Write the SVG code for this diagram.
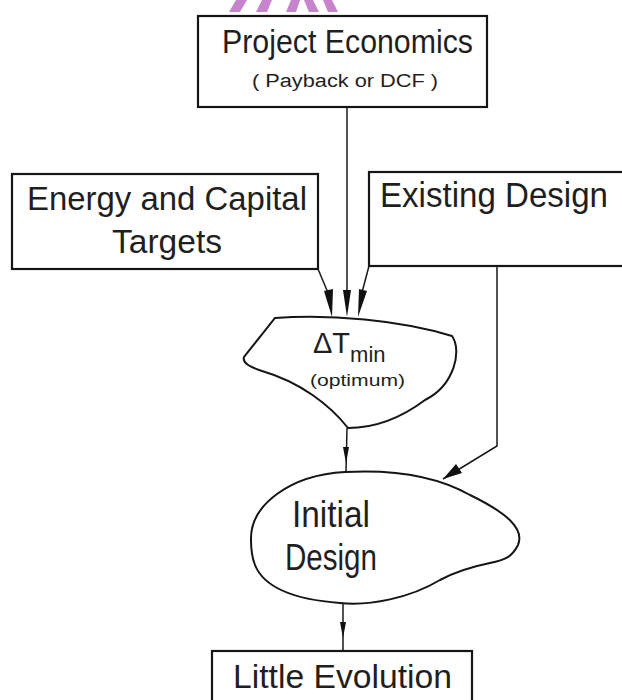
<svg xmlns="http://www.w3.org/2000/svg" width="622" height="700" viewBox="0 0 622 700">
<style>
.box{fill:none;stroke:#151515;stroke-width:2.2}
.shape{fill:none;stroke:#151515;stroke-width:2}
.ln{fill:none;stroke:#1a1a1a;stroke-width:1.5}
.ah{fill:#111;stroke:none}
.t{font-family:"Liberation Sans","DejaVu Sans",Arial,sans-serif;fill:#1f1f1f}
.wm{fill:#c684cc;stroke:none}
</style>
<rect x="0" y="0" width="622" height="700" fill="#ffffff"/>
<g id="watermark">
<polygon class="wm" points="236,0 247,0 240,12 229,12"/>
<polygon class="wm" points="262,0 272,0 267,12 256,12"/>
<polygon class="wm" points="291,0 300,0 296,12 286,12"/>
<polygon class="wm" points="304,0 313,0 319,12 309,12"/>
<polygon class="wm" points="323,0 332,0 338,12 328,12"/>
</g>
<g id="project-economics">
<rect class="box" x="198" y="16" width="289" height="91"/>
<text class="t" x="222" y="53" font-size="33" textLength="251" lengthAdjust="spacingAndGlyphs">Project Economics</text>
<text class="t" x="252" y="87" font-size="18" textLength="186" lengthAdjust="spacingAndGlyphs">( Payback or DCF )</text>
</g>
<g id="energy-capital-targets">
<rect class="box" x="12" y="174" width="306" height="95"/>
<text class="t" x="27" y="210" font-size="34" textLength="280" lengthAdjust="spacingAndGlyphs">Energy and Capital</text>
<text class="t" x="112" y="253" font-size="34" textLength="110" lengthAdjust="spacingAndGlyphs">Targets</text>
</g>
<g id="existing-design">
<rect class="box" x="369" y="172" width="260" height="94"/>
<text class="t" x="380" y="207" font-size="35" textLength="228" lengthAdjust="spacingAndGlyphs">Existing Design</text>
</g>
<g id="delta-tmin">
<path class="shape" d="M275,318 C330,314 400,320 452,336 C462,350 455,385 425,400 C405,415 380,428 348,428 C330,405 300,382 262,371 C250,367 242,363 244,357 Z"/>
<text class="t" x="313" y="353" font-size="29">ΔT<tspan font-size="22" dy="9">min</tspan></text>
<text class="t" x="310" y="386" font-size="17" textLength="95" lengthAdjust="spacingAndGlyphs">(optimum)</text>
</g>
<g id="initial-design">
<path class="shape" d="M251,540 C250,505 290,475 345,472 C400,469 440,478 470,495 C505,512 525,528 518,545 C512,557 505,560 490,563 C470,567 455,572 440,580 C410,598 370,606 340,603 C300,600 265,590 255,565 C251,555 251,547 251,540 Z"/>
<text class="t" x="292" y="527" font-size="36" textLength="78" lengthAdjust="spacingAndGlyphs">Initial</text>
<text class="t" x="285" y="570" font-size="36" textLength="92" lengthAdjust="spacingAndGlyphs">Design</text>
</g>
<g id="little-evolution">
<rect class="box" x="212" y="651" width="260" height="60"/>
<text class="t" x="233" y="688" font-size="34" textLength="219" lengthAdjust="spacingAndGlyphs">Little Evolution</text>
</g>
<g id="connectors">
<line class="ln" x1="318" y1="269" x2="331" y2="300"/>
<polygon class="ah" points="332,317 324,291 333,289"/>
<line class="ln" x1="347" y1="107" x2="347" y2="300"/>
<polygon class="ah" points="347,317 343,290 351,290"/>
<line class="ln" x1="369" y1="266" x2="360" y2="300"/>
<polygon class="ah" points="358,317 359,289 367,291"/>
<line class="ln" x1="347" y1="428" x2="346" y2="472"/>
<polygon class="ah" points="346,463 343,447 349,447"/>
<polyline class="ln" points="497,266 497,446 443,479"/>
<polygon class="ah" points="443,479 456,464 462,473"/>
<line class="ln" x1="343" y1="603" x2="343" y2="651"/>
<polygon class="ah" points="343,638 340,622 346,622"/>
</g>
</svg>
